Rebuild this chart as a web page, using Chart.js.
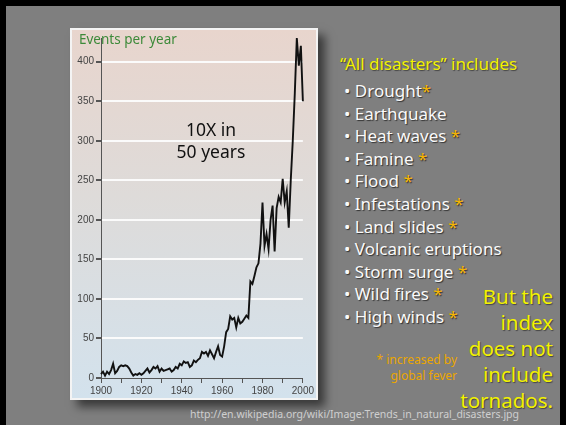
<!DOCTYPE html>
<html>
<head>
<meta charset="utf-8">
<script src="https://cdn.jsdelivr.net/npm/chart.js@4/dist/chart.umd.min.js"></script>
<style>
  body { margin: 0; width: 566px; height: 425px; background: #000; overflow: hidden; position: relative; font-family: "Comic Sans MS", "Noto Sans", sans-serif; }
  #slide { position: absolute; left: 6px; top: 6px; right: 6px; bottom: 0; background: #7f7f7f; }
  #panel { position: absolute; left: 70px; top: 28px; width: 248px; height: 372px; box-sizing: border-box; border: 2px solid #f4f4f4;
           background: linear-gradient(#e8d5cd 0%, #dedbd9 45%, #d3e2ed 100%); box-shadow: 7px 7px 9px rgba(0,0,0,0.55); }
  #chart { position: absolute; left: 72px; top: 30px; }
  .abs { position: absolute; white-space: nowrap; }
  #ytitle { left: 79px; top: 30px; color: #3d8a3a; font-size: 13.5px; }
  #note { left: 149px; top: 118px; width: 124px; text-align: center; color: #111; font-size: 17.5px; line-height: 22px; }
  #head { left: 340px; top: 52px; color: #f2f200; font-size: 17px; text-shadow: 1px 1px 1px #444; }
  #list { left: 344px; top: 80px; color: #fafafa; font-size: 17px; line-height: 22.6px; text-shadow: 1px 1px 1px #333; }
  #list .s { color: #f7b500; }
  #tornado { right: 13px; top: 283px; text-align: right; color: #f2f200; font-size: 20.5px; line-height: 26px; text-shadow: 1px 1px 1px #444; }
  #fever { right: 109px; top: 352px; text-align: right; color: #eba600; font-size: 12px; line-height: 16px; }
  #url { left: 190px; top: 407px; color: #cfcfcf; font-size: 10.5px; }
</style>
</head>
<body>
<div id="slide"></div>
<div id="panel"></div>
<canvas id="chart" width="244" height="368"></canvas>
<div class="abs" id="ytitle">Events per year</div>
<div class="abs" id="note">10X in<br>50 years</div>
<div class="abs" id="head">“All disasters” includes</div>
<div class="abs" id="list"></div>
<div class="abs" id="tornado">But the<br>index<br>does not<br>include<br>tornados.</div>
<div class="abs" id="fever">* increased by<br>global fever</div>
<div class="abs" id="url">http://en.wikipedia.org/wiki/Image:Trends_in_natural_disasters.jpg</div>
<script>
// natural disasters reported per year, 1900 - 2000
const events = [
  5, 8, 3, 8, 5, 10, 18, 6, 9, 14,
  16, 15, 16, 15, 12, 7, 3, 5, 4, 6,
  4, 6, 9, 12, 7, 10, 14, 12, 15, 8,
  12, 9, 10, 11, 12, 8, 10, 14, 12, 18,
  16, 21, 19, 20, 14, 16, 22, 20, 23, 25,
  33, 31, 33, 28, 35, 30, 25, 33, 40, 29,
  27, 40, 58, 62, 78, 74, 76, 64, 76, 69,
  71, 75, 79, 76, 122, 119, 129, 140, 145, 170,
  222, 167, 182, 163, 200, 218, 160, 215, 229, 222,
  252, 222, 236, 190, 250, 300, 360, 430, 395, 420,
  350
];
const years = events.map((v, i) => 1900 + i);
const yTicks = [0, 50, 100, 150, 200, 250, 300, 350, 400];

// disaster types, true = marked with an asterisk
const disasterTypes = ['Drought', 'Earthquake', 'Heat waves', 'Famine', 'Flood', 'Infestations',
  'Land slides', 'Volcanic eruptions', 'Storm surge', 'Wild fires', 'High winds'];
const starred = [true, false, true, true, true, true, true, false, true, true, true];

document.getElementById('list').innerHTML = disasterTypes.map((t, i) =>
  '• ' + t + (starred[i] ? (i === 0 ? '<span class="s">*</span>' : ' <span class="s">*</span>') : '')
).join('<br>');

const axisColor = '#555';
const tickFont = { family: 'Liberation Sans, Arial, sans-serif', size: 10 };

new Chart(document.getElementById('chart'), {
  type: 'line',
  data: {
    datasets: [{
      data: years.map((y, i) => ({ x: y, y: events[i] })),
      borderColor: '#111',
      borderWidth: 1.9,
      pointRadius: 0,
      tension: 0,
      clip: false
    }]
  },
  options: {
    responsive: false,
    animation: false,
    layout: { padding: { top: 4, right: 11, left: 0, bottom: 0 } },
    plugins: { legend: { display: false }, tooltip: { enabled: false } },
    scales: {
      x: {
        type: 'linear',
        min: 1900,
        max: 2000,
        afterFit: s => { s.height = 20; },
        border: { color: axisColor, width: 1 },
        grid: { drawOnChartArea: false, tickLength: 5, tickColor: axisColor },
        ticks: {
          stepSize: 10,
          maxRotation: 0,
          autoSkip: false,
          padding: 2,
          color: '#444',
          font: tickFont,
          callback: v => (v % 20 === 0 ? String(v) : '')
        }
      },
      y: {
        min: 0,
        max: 430,
        afterFit: s => { s.width = 29; },
        afterBuildTicks: s => { s.ticks = yTicks.map(v => ({ value: v })); },
        border: { color: axisColor, width: 1 },
        grid: {
          tickLength: 5,
          tickColor: axisColor,
          lineWidth: 2,
          color: ctx => (ctx.tick && ctx.tick.value === 0 ? 'rgba(0,0,0,0)' : '#fbfbfb')
        },
        ticks: { padding: 2, color: '#444', font: tickFont }
      }
    }
  }
});
</script>
</body>
</html>
